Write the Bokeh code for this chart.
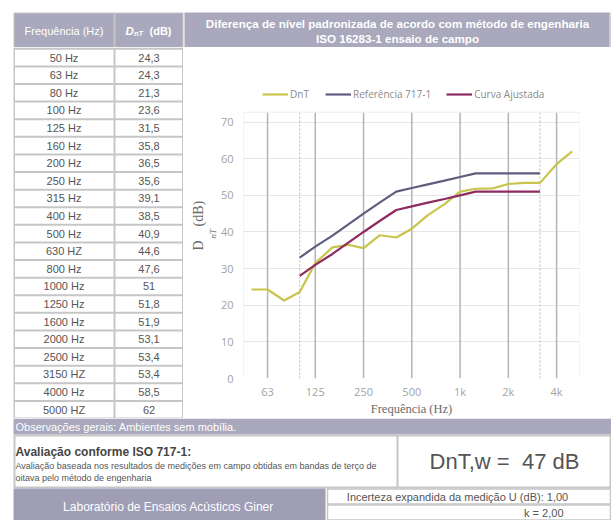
from bokeh.plotting import figure
from bokeh.models import Range1d, FixedTicker, Legend, LegendItem, Title
from bokeh.layouts import row, column
from bokeh.embed import file_html
from bokeh.resources import INLINE
from bokeh.core.properties import value

# ---------------- data ----------------
freq_hz = [50, 63, 80, 100, 125, 160, 200, 250, 315, 400, 500, 630, 800,
           1000, 1250, 1600, 2000, 2500, 3150, 4000, 5000]
freq_labels = ["50 Hz", "63 Hz", "80 Hz", "100 Hz", "125 Hz", "160 Hz", "200 Hz",
               "250 Hz", "315 Hz", "400 Hz", "500 Hz", "630 HZ", "800 Hz", "1000 Hz",
               "1250 Hz", "1600 Hz", "2000 Hz", "2500 Hz", "3150 HZ", "4000 Hz", "5000 HZ"]
dnt = [24.3, 24.3, 21.3, 23.6, 31.5, 35.8, 36.5, 35.6, 39.1, 38.5, 40.9, 44.6, 47.6,
       51, 51.8, 51.9, 53.1, 53.4, 53.4, 58.5, 62]
ref_freq = [100, 125, 160, 200, 250, 315, 400, 500, 630, 800, 1000, 1250, 1600,
            2000, 2500, 3150]
ref_717 = [33, 36, 39, 42, 45, 48, 51, 52, 53, 54, 55, 56, 56, 56, 56, 56]
curva = [28, 31, 34, 37, 40, 43, 46, 47, 48, 49, 50, 51, 51, 51, 51, 51]
x_ticks = [63, 125, 250, 500, 1000, 2000, 4000]
x_tick_labels = ["63", "125", "250", "500", "1k", "2k", "4k"]
x_range_marks = [100, 3150]
y_ticks = [0, 10, 20, 30, 40, 50, 60, 70]
dnt_w = 47

HDR = "#a9a8bc"
LAB = "#9f9eb5"
BORDER = "#c6c6c6"
TXT = "#555555"
C_DNT = "#c9c44c"
C_REF = "#5f5d7e"
C_CUR = "#8e2b60"
SANS = "Liberation Sans"
SERIF = "Liberation Serif"
NB = "\u00a0"


def blank(w, h, xr, yr):
    f = figure(width=w, height=h, x_range=Range1d(*xr), y_range=Range1d(*yr),
               output_backend="svg", toolbar_location=None, min_border=0,
               x_axis_location=None, y_axis_location=None)
    f.grid.visible = False
    f.outline_line_color = None
    f.background_fill_color = "white"
    f.border_fill_color = "white"
    return f


def txt(f, x, y, s, size, color, align="left", style="normal", font=SANS):
    f.text(x=[x], y=[y], text=[s], text_font=value(font), text_font_size=size,
           text_color=color, text_align=align, text_baseline="middle",
           text_font_style=style)


# ---------------- top strip: table header + chart header ----------------
s = blank(611, 47, (0, 611), (47, 0))
s.quad(left=13, right=183, top=12, bottom=47, fill_color=BORDER, line_color=None)
s.quad(left=[14, 115], right=[113, 182], top=13, bottom=47, fill_color=HDR, line_color=None)
txt(s, 63.5, 30, "Frequência (Hz)", "11px", "white", align="center")
txt(s, 125, 30, "D", "11.5px", "white", style="bold italic")
txt(s, 133.5, 33, "nT", "7.5px", "white", style="bold italic")
txt(s, 149, 30, "(dB)", "11px", "white", style="bold")
s.quad(left=184, right=609, top=12, bottom=47, fill_color=HDR, line_color=None)
s.segment(x0=609.5, y0=12, x1=609.5, y1=47, line_color=BORDER, line_width=1.5)
txt(s, 397, 23, "Diferença de nível padronizada de acordo com método de engenharia",
    "11.6px", "white", align="center", style="bold")
txt(s, 397, 37.5, "ISO 16283-1 ensaio de campo", "11.6px", "white", align="center", style="bold")

# ---------------- table body ----------------
t = blank(183, 371, (0, 183), (418, 47))
t.quad(left=13, right=183, top=47, bottom=418, fill_color=BORDER, line_color=None)
n = len(freq_labels)
row_h = (418 - 48.3) / n
tops = [48.3 + i * row_h + 1 for i in range(n)]
bots = [48.3 + (i + 1) * row_h - 1 for i in range(n)]
mids = [48.3 + (i + 0.5) * row_h for i in range(n)]
t.quad(left=14.5, right=113, top=tops, bottom=bots, fill_color="white", line_color=None)
t.quad(left=115, right=181.5, top=tops, bottom=bots, fill_color="white", line_color=None)
t.text(x=63.5, y=mids, text=freq_labels, text_font=value(SANS), text_font_size="11px",
       text_color=TXT, text_align="center", text_baseline="middle")
val_labels = [("%g" % v).replace(".", ",") for v in dnt]
t.text(x=148.5, y=mids, text=val_labels, text_font=value(SANS), text_font_size="11px",
       text_color=TXT, text_align="center", text_baseline="middle")

# ---------------- chart ----------------
Y_TOP_GRID = 72.7   # top of the plot area (vertical grid lines end here)
Y_TOP = 81.35       # extra room above for the legend
p = figure(width=428, height=371, x_axis_type="log", x_range=Range1d(44.6, 5557),
           y_range=Range1d(0, Y_TOP), output_backend="svg", toolbar_location=None,
           min_border_left=60, min_border_right=32, min_border_top=33, min_border_bottom=37)
p.outline_line_color = None
p.background_fill_color = "white"
p.border_fill_color = "white"

p.xaxis.ticker = FixedTicker(ticks=x_ticks)
p.xaxis.major_label_overrides = {k: v for k, v in zip(x_ticks, x_tick_labels)}
p.yaxis.ticker = FixedTicker(ticks=y_ticks)
for ax in (p.xaxis[0], p.yaxis[0]):
    ax.axis_line_color = None
    ax.major_tick_line_color = None
    ax.minor_tick_line_color = None
    ax.major_tick_out = 0
    ax.major_tick_in = 0
    ax.major_label_text_font = "Open Sans"
    ax.major_label_text_font_size = "11px"
    ax.major_label_text_color = "#a3a3a3"
p.xaxis.major_label_standoff = 5
p.yaxis.major_label_standoff = 10
p.xaxis.axis_label = "Frequência (Hz)"
p.xaxis.axis_label_standoff = 0
p.xaxis.axis_label_text_font = SERIF
p.xaxis.axis_label_text_font_size = "12.5px"
p.xaxis.axis_label_text_font_style = "normal"
p.xaxis.axis_label_text_color = "#6a6a6a"

p.xgrid.visible = False
p.ygrid.ticker = FixedTicker(ticks=y_ticks)
p.ygrid.grid_line_color = "#e6e6e6"
p.ygrid.grid_line_width = 1

# vertical grid lines limited to the plot area (0 .. Y_TOP_GRID)
p.segment(x0=x_ticks, y0=0, x1=x_ticks, y1=Y_TOP_GRID, line_color="#b4b4b4", line_width=1.5)
p.segment(x0=x_range_marks, y0=0, x1=x_range_marks, y1=Y_TOP_GRID, line_color="#b8b8b8",
          line_width=1, line_dash="2 2")
# faint plot-area outline
p.segment(x0=[44.6, 5557], y0=0, x1=[44.6, 5557], y1=Y_TOP_GRID, line_color="#ececec", line_width=1)
p.segment(x0=44.6, y0=Y_TOP_GRID, x1=5557, y1=Y_TOP_GRID, line_color="#ececec", line_width=1)

r1 = p.line(freq_hz, dnt, line_color=C_DNT, line_width=2.2)
r2 = p.line(ref_freq, ref_717, line_color=C_REF, line_width=2.2)
r3 = p.line(ref_freq, curva, line_color=C_CUR, line_width=2.2)

# y axis title (D with subscript nT) placed in the left panel
p.add_layout(Title(text="nT", align="left", offset=140, standoff=0, text_font=SERIF,
                   text_font_size="9px", text_font_style="italic", text_color="#6a6a6a"), "left")
p.add_layout(Title(text="D" + NB * 4 + "(dB)", align="left", offset=128, standoff=0,
                   text_font=SERIF, text_font_size="14px", text_font_style="normal",
                   text_color="#6a6a6a"), "left")

leg = Legend(items=[LegendItem(label="DnT", renderers=[r1]),
                    LegendItem(label="Referência 717-1", renderers=[r2]),
                    LegendItem(label="Curva Ajustada", renderers=[r3])],
             orientation="horizontal", location=(19, 277))
leg.border_line_color = None
leg.background_fill_alpha = 0
leg.padding = 0
leg.margin = 0
leg.spacing = 15
leg.glyph_width = 26
leg.glyph_height = 14
leg.label_height = 14
leg.label_standoff = 2
leg.label_text_font = "Open Sans"
leg.label_text_font_size = "10px"
leg.label_text_color = "#8a8a8a"
p.add_layout(leg)

# ---------------- footer ----------------
ft = blank(611, 102, (0, 611), (520, 418))
ft.quad(left=13, right=611, top=418, bottom=434, fill_color=HDR, line_color=None)
txt(ft, 15, 426, "Observações gerais: Ambientes sem mobília.", "11px", "white")
ft.quad(left=14, right=610, top=435, bottom=487, fill_color="white", line_color=BORDER, line_width=2)
ft.segment(x0=397, y0=435, x1=397, y1=487, line_color=BORDER, line_width=2)
txt(ft, 15, 451, "Avaliação conforme ISO 717-1:", "12px", "#454545", style="bold")
txt(ft, 15, 465, "Avaliação baseada nos resultados de medições em campo obtidas em bandas de terço de",
    "9px", TXT)
txt(ft, 15, 477, "oitava pelo método de engenharia", "9px", TXT)
txt(ft, 504, 461, "DnT,w =" + NB * 2 + "%d dB" % dnt_w, "22px", TXT, align="center")
ft.quad(left=13, right=325, top=488, bottom=520, fill_color=LAB, line_color=None)
txt(ft, 168, 506, "Laboratório de Ensaios Acústicos Giner", "12px", "white", align="center")
ft.quad(left=[327, 327], right=[610, 610], top=[488.5, 504.5], bottom=[503.5, 519.5],
        fill_color="white", line_color=BORDER, line_width=1.5)
txt(ft, 457, 496, "Incerteza expandida da medição U (dB): 1,00", "11px", TXT, align="center")
txt(ft, 563, 512.5, "k = 2,00", "11px", TXT, align="right")

layout = column(s, row(column(t), column(p)), ft)
open("out.html", "w").write(file_html(layout, INLINE))
